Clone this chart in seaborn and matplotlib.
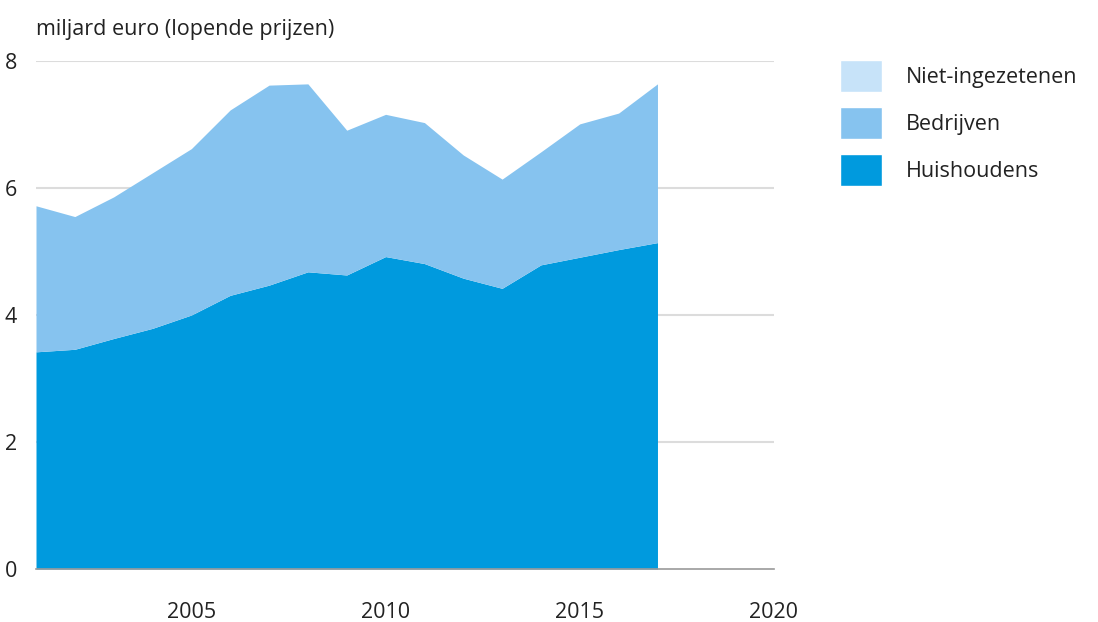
import matplotlib
matplotlib.use("Agg")
import matplotlib.pyplot as plt
from matplotlib.patches import Patch
import seaborn as sns
import numpy as np

years = list(range(2001, 2018))
huishoudens = [3.42, 3.46, 3.63, 3.79, 4.00, 4.31, 4.47, 4.68, 4.63, 4.92,
               4.81, 4.58, 4.42, 4.79, 4.91, 5.03, 5.14]
totaal = [5.72, 5.55, 5.86, 6.24, 6.62, 7.23, 7.62, 7.64, 6.91, 7.16,
          7.03, 6.52, 6.14, 6.57, 7.01, 7.18, 7.64]
bedrijven = [t - h for t, h in zip(totaal, huishoudens)]
niet_ingezetenen = [0.0] * len(years)

series_names = ["Huishoudens", "Bedrijven", "Niet-ingezetenen"]
colors = ["#009ade", "#86c3ef", "#c7e3f9"]
x_ticks = [2005, 2010, 2015, 2020]
y_ticks = [0, 2, 4, 6, 8]

sns.set_theme(style="white")
plt.rcParams["font.family"] = ["Open Sans", "DejaVu Sans"]
FS = 15.5

fig = plt.figure(figsize=(10.98, 6.22), dpi=100)
ax = fig.add_axes([36 / 1098, 1 - 569 / 622, (774 - 36) / 1098, (569 - 61) / 622])

ax.stackplot(years, huishoudens, bedrijven, niet_ingezetenen,
             colors=colors, linewidth=0)

ax.set_xlim(2001, 2020)
ax.set_ylim(0, 8)
ax.set_yticks(y_ticks)
ax.set_xticks(x_ticks)
for yv in y_ticks[1:]:
    ax.axhline(yv, color="#dcdcdc", lw=1.5, zorder=0)

sns.despine(ax=ax, left=True, top=True, right=True)
ax.spines["bottom"].set_color("#9a9a9a")
ax.spines["bottom"].set_linewidth(1.2)
ax.tick_params(axis="x", direction="out", length=12, width=1.2, color="#9a9a9a",
               labelsize=FS, labelcolor="#222222", pad=12)
ax.tick_params(axis="y", length=0, labelsize=FS, labelcolor="#222222", pad=18)
for lbl in ax.get_yticklabels():
    lbl.set_horizontalalignment("center")
ax.grid(False)

fig.text(36 / 1098, 1 - 30 / 622, "miljard euro (lopende prijzen)",
         fontsize=FS, color="#222222", va="center", ha="left")

handles = [Patch(facecolor=colors[2], label=series_names[2]),
           Patch(facecolor=colors[1], label=series_names[1]),
           Patch(facecolor=colors[0], label=series_names[0])]
fig.legend(handles=handles, loc="upper left",
           bbox_to_anchor=(840 / 1098, 1 - 60 / 622), frameon=False,
           fontsize=FS, handlelength=1.95, handleheight=1.9,
           handletextpad=1.1, labelspacing=0.7, borderpad=0, borderaxespad=0,
           labelcolor="#222222")

fig.savefig("out.png", dpi=100)
